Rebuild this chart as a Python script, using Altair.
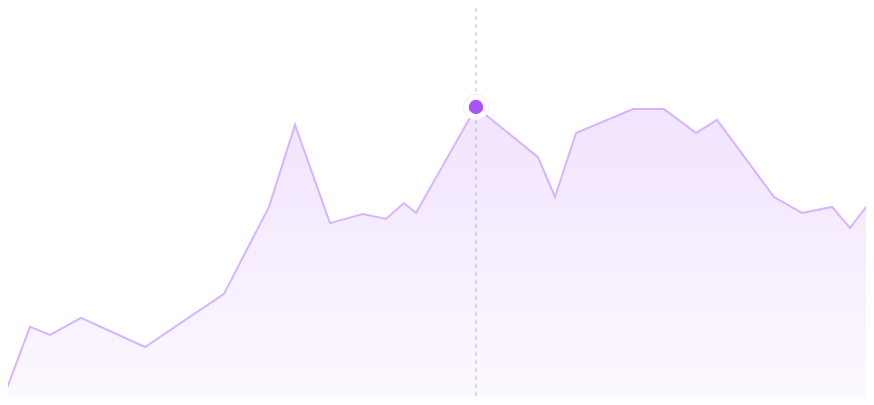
import altair as alt
import pandas as pd

# Data (x: time index, y: value)
t_values = [1, 30, 50, 81, 145, 224, 269, 295, 330, 363, 386, 404, 416, 476,
            538, 555, 576, 633, 664, 696, 717, 774, 802, 832, 850, 873]
y_values = [0.0, 25.7, 23.0, 28.7, 19.0, 36.7, 65.7, 93.0, 60.3, 63.3, 61.7, 67.0, 63.7, 99.0,
            82.3, 69.0, 90.3, 98.3, 98.3, 90.3, 94.7, 69.0, 63.7, 65.7, 58.7, 68.7]
highlight_t = [476]
highlight_y = [99.0]

df = pd.DataFrame({"t": t_values, "v": y_values})
hl = pd.DataFrame({"t": highlight_t, "v": highlight_y})

W, H = 858, 389
xs = alt.Scale(domain=[8, 866], nice=False, zero=False)
ys = alt.Scale(domain=[7 / 3, 396 / 3], nice=False, zero=False)

X = alt.X("t:Q", scale=xs, axis=None)
Y = alt.Y("v:Q", scale=ys, axis=None)

rule = alt.Chart(hl).mark_rule(
    color="#d4d4d8", strokeWidth=1.5, strokeDash=[4, 4]
).encode(x=alt.X("t:Q", scale=xs, axis=None))

area = alt.Chart(df).mark_area(
    clip=True,
    color=alt.Gradient(
        gradient="linear",
        x1=0, y1=0, x2=0, y2=1,
        stops=[
            alt.GradientStop(color="rgba(168,85,247,0.16)", offset=0),
            alt.GradientStop(color="rgba(168,85,247,0.04)", offset=1),
        ],
    ),
).encode(x=X, y=Y, y2=alt.datum(0))

line = alt.Chart(df).mark_line(
    clip=True, color="#d8b4fe", strokeWidth=2
).encode(x=X, y=Y)

ring = alt.Chart(hl).mark_point(
    filled=True, shape="circle", size=650, fill="white", opacity=1,
    stroke="#f5edff", strokeWidth=1
).encode(x=X, y=Y)

dot = alt.Chart(hl).mark_point(
    filled=True, shape="circle", size=210, color="#a855f7", opacity=1
).encode(x=X, y=Y)

chart = alt.layer(rule, area, line, ring, dot).properties(
    width=W, height=H, padding=0, autosize=alt.AutoSizeParams(type="none"),
    background="white",
).configure_view(strokeWidth=0)

chart.save("out.html", embed_options={"renderer": "svg", "actions": False})
